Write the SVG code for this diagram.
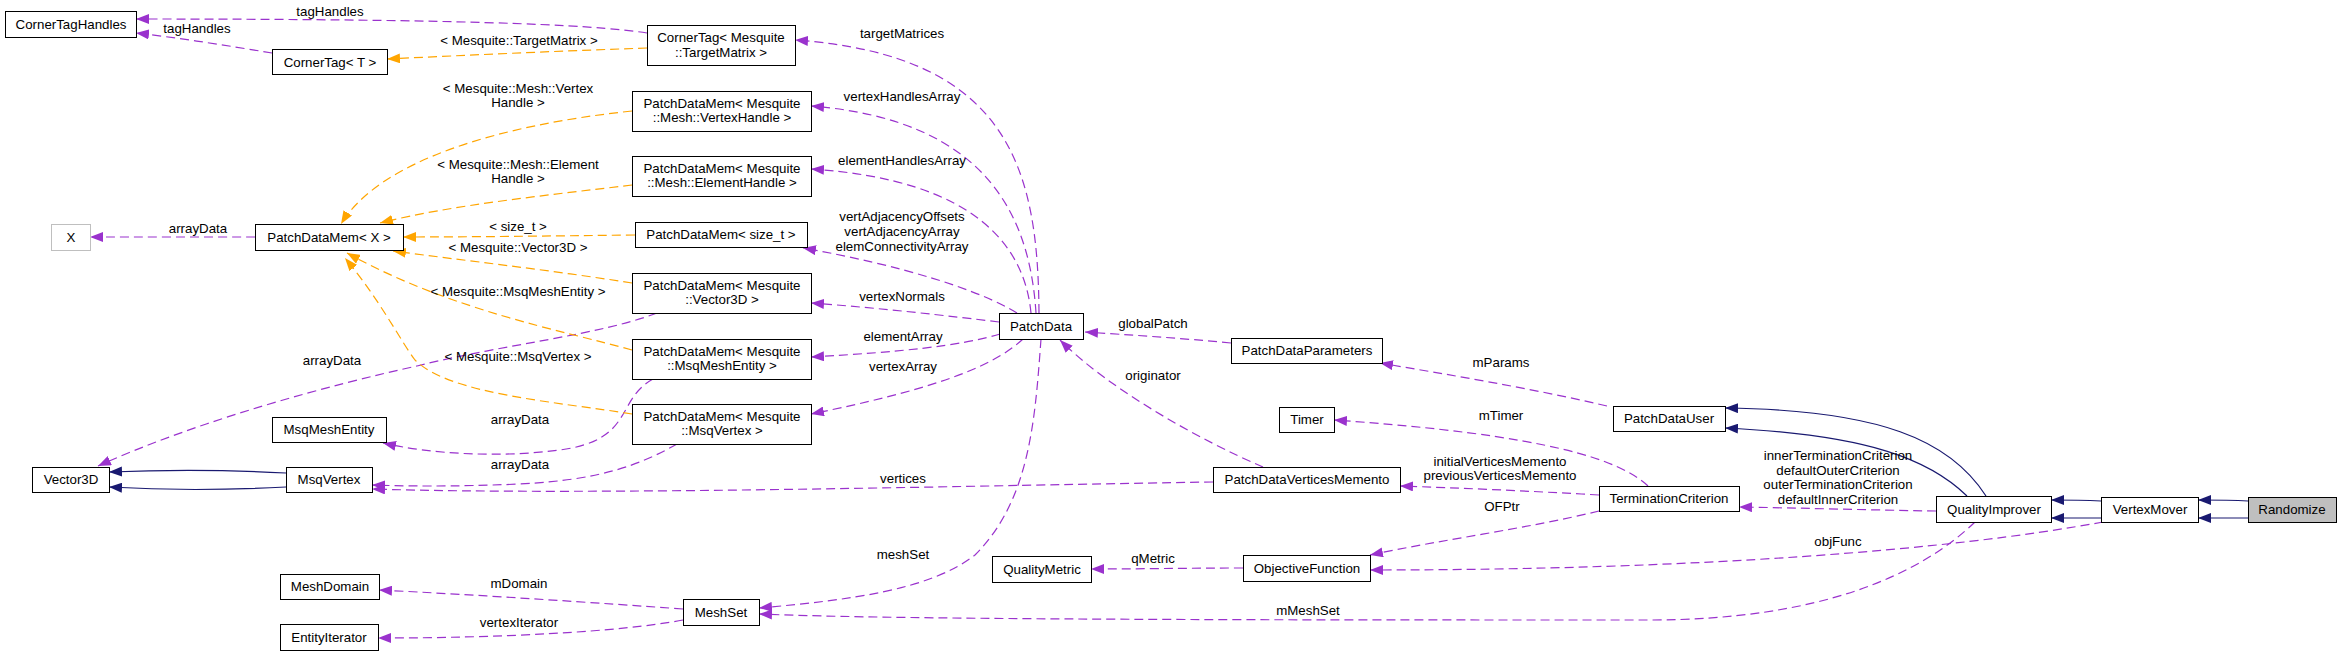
<svg xmlns="http://www.w3.org/2000/svg" width="2341" height="656" viewBox="0 0 2341 656">
<style>
text{font-family:"Liberation Sans",Arial,sans-serif;font-size:13.3px;fill:#000;text-anchor:middle}
.n rect{fill:#fff;stroke:#000;stroke-width:1}
.n rect.g{stroke:#bfbfbf}
.n rect.f{fill:#bfbfbf}
.e path{fill:none;stroke-width:1.2}
.p{stroke:#9a32cd;stroke-dasharray:9,5;marker-end:url(#mp)}
.o{stroke:#ffa500;stroke-dasharray:9,5;marker-end:url(#mo)}
.b{stroke:#191970;marker-end:url(#mb)}
</style>
<defs>
<marker id="mp" viewBox="0 0 13 10" refX="13" refY="5" markerWidth="13" markerHeight="10" markerUnits="userSpaceOnUse" orient="auto"><path d="M0,0L13,5L0,10z" fill="#9a32cd"/></marker>
<marker id="mo" viewBox="0 0 13 10" refX="13" refY="5" markerWidth="13" markerHeight="10" markerUnits="userSpaceOnUse" orient="auto"><path d="M0,0L13,5L0,10z" fill="#ffa500"/></marker>
<marker id="mb" viewBox="0 0 13 10" refX="13" refY="5" markerWidth="13" markerHeight="10" markerUnits="userSpaceOnUse" orient="auto"><path d="M0,0L13,5L0,10z" fill="#191970"/></marker>
</defs>
<rect width="2341" height="656" fill="#fff"/>
<g id="connectors" class="e">
<path class="p" d="M647,33 C590,24 450,19 136,19"/>
<path class="p" d="M272,53 C230,46 180,38 136,33"/>
<path class="o" d="M647,48 C560,51 470,55 387,59"/>
<path class="p" d="M255,237 C200,237 140,237 90,237"/>
<path class="p" d="M1039,313 C1038,170 1010,55 795,40"/>
<path class="p" d="M1036,313 C1030,220 990,120 811,106"/>
<path class="p" d="M1031,313 C1025,250 980,180 811,169"/>
<path class="p" d="M1017,313 C980,290 900,265 803,248"/>
<path class="p" d="M999,322 C950,316 880,308 811,303"/>
<path class="p" d="M1000,334 C960,346 900,352 811,357"/>
<path class="p" d="M1023,339 C990,370 920,392 811,414"/>
<path class="p" d="M1041,339 C1035,420 1030,500 975,555 C930,590 850,600 759,608"/>
<path class="p" d="M657,313 C600,335 500,345 417,366 C330,385 200,420 98,466"/>
<path class="p" d="M653,379 C615,400 635,440 560,450 C500,458 430,454 383,443"/>
<path class="p" d="M677,444 C640,465 600,480 520,484 C450,487 400,486 372,485"/>
<path class="p" d="M1213,482 C1000,485 600,496 372,489"/>
<path class="p" d="M683,609 C600,603 480,595 379,590"/>
<path class="p" d="M683,620 C620,632 500,638 378,638"/>
<path class="p" d="M1975,522 C1920,575 1820,620 1650,620 C1300,620 900,620 759,614"/>
<path class="p" d="M1231,343 C1180,338 1130,335 1085,332"/>
<path class="p" d="M1263,467 C1200,440 1110,390 1060,340"/>
<path class="p" d="M1607,406 C1530,388 1450,375 1380,363"/>
<path class="p" d="M1648,486 C1620,460 1550,435 1334,420"/>
<path class="p" d="M1599,495 C1530,491 1460,488 1400,486"/>
<path class="p" d="M1599,511 C1530,528 1440,540 1370,555"/>
<path class="p" d="M1243,568 C1190,568 1140,569 1091,569"/>
<path class="p" d="M1936,511 C1870,510 1800,508 1739,507"/>
<path class="p" d="M2103,522 C1950,550 1700,570 1370,570"/>
<path class="o" d="M632,111 C500,125 380,160 341,224"/>
<path class="o" d="M632,185 C550,195 450,205 380,223"/>
<path class="o" d="M635,235 C550,236 470,237 403,237"/>
<path class="o" d="M632,283 C550,270 460,260 393,251"/>
<path class="o" d="M632,350 C560,330 450,310 347,253"/>
<path class="o" d="M632,414 C560,402 450,395 415,360 C400,340 380,300 345,258"/>
<path class="b" d="M286,473 C230,470 160,470 109,472"/>
<path class="b" d="M286,487 C230,490 160,490 109,487"/>
<path class="b" d="M1986,496 C1950,440 1880,410 1725,408"/>
<path class="b" d="M1967,496 C1930,460 1870,435 1725,428"/>
<path class="b" d="M2101,501 C2080,500 2070,500 2051,500"/>
<path class="b" d="M2101,518 C2080,518 2070,518 2051,518"/>
<path class="b" d="M2248,501 C2230,500 2215,500 2198,500"/>
<path class="b" d="M2248,518 C2230,518 2215,518 2198,518"/>
<text x="330" y="16">tagHandles</text>
<text x="197" y="33">tagHandles</text>
<text x="519" y="45">&lt; Mesquite::TargetMatrix &gt;</text>
<text x="518" y="93">&lt; Mesquite::Mesh::Vertex</text>
<text x="518" y="107">Handle &gt;</text>
<text x="518" y="169">&lt; Mesquite::Mesh::Element</text>
<text x="518" y="183">Handle &gt;</text>
<text x="518" y="231">&lt; size_t &gt;</text>
<text x="518" y="252">&lt; Mesquite::Vector3D &gt;</text>
<text x="518" y="296">&lt; Mesquite::MsqMeshEntity &gt;</text>
<text x="518" y="361">&lt; Mesquite::MsqVertex &gt;</text>
<text x="198" y="233">arrayData</text>
<text x="332" y="365">arrayData</text>
<text x="520" y="424">arrayData</text>
<text x="520" y="469">arrayData</text>
<text x="519" y="588">mDomain</text>
<text x="519" y="627">vertexIterator</text>
<text x="902" y="38">targetMatrices</text>
<text x="902" y="101">vertexHandlesArray</text>
<text x="902" y="165">elementHandlesArray</text>
<text x="902" y="221">vertAdjacencyOffsets</text>
<text x="902" y="236">vertAdjacencyArray</text>
<text x="902" y="251">elemConnectivityArray</text>
<text x="902" y="301">vertexNormals</text>
<text x="903" y="341">elementArray</text>
<text x="903" y="371">vertexArray</text>
<text x="903" y="483">vertices</text>
<text x="903" y="559">meshSet</text>
<text x="1153" y="328">globalPatch</text>
<text x="1153" y="380">originator</text>
<text x="1153" y="563">qMetric</text>
<text x="1308" y="615">mMeshSet</text>
<text x="1501" y="367">mParams</text>
<text x="1501" y="420">mTimer</text>
<text x="1500" y="466">initialVerticesMemento</text>
<text x="1500" y="480">previousVerticesMemento</text>
<text x="1502" y="511">OFPtr</text>
<text x="1838" y="460">innerTerminationCriterion</text>
<text x="1838" y="475">defaultOuterCriterion</text>
<text x="1838" y="489">outerTerminationCriterion</text>
<text x="1838" y="504">defaultInnerCriterion</text>
<text x="1838" y="546">objFunc</text>
</g>
<g id="n_CornerTagHandles" class="n"><rect x="5.5" y="11.5" width="131" height="26"/><text x="71" y="29">CornerTagHandles</text></g>
<g id="n_CornerTagT" class="n"><rect x="272.5" y="49.5" width="115" height="25"/><text x="330" y="66.5">CornerTag&lt; T &gt;</text></g>
<g id="n_CornerTagTM" class="n"><rect x="647.5" y="25.5" width="148" height="40"/><text x="721" y="41.5">CornerTag&lt; Mesquite</text><text x="721" y="56.5">::TargetMatrix &gt;</text></g>
<g id="n_PDM_VH" class="n"><rect x="632.5" y="91.5" width="179" height="40"/><text x="722" y="107.5">PatchDataMem&lt; Mesquite</text><text x="722" y="121.5">::Mesh::VertexHandle &gt;</text></g>
<g id="n_PDM_EH" class="n"><rect x="632.5" y="156.5" width="179" height="40"/><text x="722" y="172.5">PatchDataMem&lt; Mesquite</text><text x="722" y="187">::Mesh::ElementHandle &gt;</text></g>
<g id="n_PDM_size_t" class="n"><rect x="635.5" y="222.5" width="172" height="25"/><text x="721" y="239">PatchDataMem&lt; size_t &gt;</text></g>
<g id="n_PDM_V3D" class="n"><rect x="632.5" y="273.5" width="179" height="40"/><text x="722" y="289.5">PatchDataMem&lt; Mesquite</text><text x="722" y="304">::Vector3D &gt;</text></g>
<g id="n_PDM_MME" class="n"><rect x="632.5" y="339.5" width="179" height="40"/><text x="722" y="355.5">PatchDataMem&lt; Mesquite</text><text x="722" y="370">::MsqMeshEntity &gt;</text></g>
<g id="n_PDM_MV" class="n"><rect x="632.5" y="404.5" width="179" height="40"/><text x="722" y="420.5">PatchDataMem&lt; Mesquite</text><text x="722" y="435">::MsqVertex &gt;</text></g>
<g id="n_X" class="n"><rect class="g" x="51.5" y="224.5" width="39" height="26"/><text x="71" y="242">X</text></g>
<g id="n_PDM_X" class="n"><rect x="255.5" y="224.5" width="148" height="26"/><text x="329" y="242">PatchDataMem&lt; X &gt;</text></g>
<g id="n_Vector3D" class="n"><rect x="32.5" y="467.5" width="77" height="25"/><text x="71" y="484">Vector3D</text></g>
<g id="n_MsqMeshEntity" class="n"><rect x="272.5" y="417.5" width="114" height="25"/><text x="329" y="434">MsqMeshEntity</text></g>
<g id="n_MsqVertex" class="n"><rect x="286.5" y="467.5" width="86" height="25"/><text x="329" y="484">MsqVertex</text></g>
<g id="n_MeshDomain" class="n"><rect x="280.5" y="574.5" width="99" height="25"/><text x="330" y="591">MeshDomain</text></g>
<g id="n_EntityIterator" class="n"><rect x="280.5" y="624.5" width="98" height="26"/><text x="329" y="642">EntityIterator</text></g>
<g id="n_MeshSet" class="n"><rect x="683.5" y="599.5" width="76" height="26"/><text x="721" y="617">MeshSet</text></g>
<g id="n_PatchData" class="n"><rect x="999.5" y="313.5" width="84" height="26"/><text x="1041" y="331">PatchData</text></g>
<g id="n_PatchDataParameters" class="n"><rect x="1231.5" y="338.5" width="151" height="25"/><text x="1307" y="355">PatchDataParameters</text></g>
<g id="n_Timer" class="n"><rect x="1279.5" y="407.5" width="55" height="25"/><text x="1307" y="424">Timer</text></g>
<g id="n_PatchDataVerticesMemento" class="n"><rect x="1213.5" y="467.5" width="187" height="25"/><text x="1307" y="484">PatchDataVerticesMemento</text></g>
<g id="n_QualityMetric" class="n"><rect x="992.5" y="556.5" width="99" height="26"/><text x="1042" y="574">QualityMetric</text></g>
<g id="n_ObjectiveFunction" class="n"><rect x="1243.5" y="555.5" width="127" height="26"/><text x="1307" y="573">ObjectiveFunction</text></g>
<g id="n_PatchDataUser" class="n"><rect x="1613.5" y="406.5" width="112" height="25"/><text x="1669" y="423">PatchDataUser</text></g>
<g id="n_TerminationCriterion" class="n"><rect x="1599.5" y="486.5" width="140" height="25"/><text x="1669" y="503">TerminationCriterion</text></g>
<g id="n_QualityImprover" class="n"><rect x="1936.5" y="496.5" width="115" height="26"/><text x="1994" y="514">QualityImprover</text></g>
<g id="n_VertexMover" class="n"><rect x="2101.5" y="497.5" width="97" height="25"/><text x="2150" y="514">VertexMover</text></g>
<g id="n_Randomize" class="n"><rect class="f" x="2248.5" y="497.5" width="88" height="25"/><text x="2292" y="514">Randomize</text></g>
</svg>
